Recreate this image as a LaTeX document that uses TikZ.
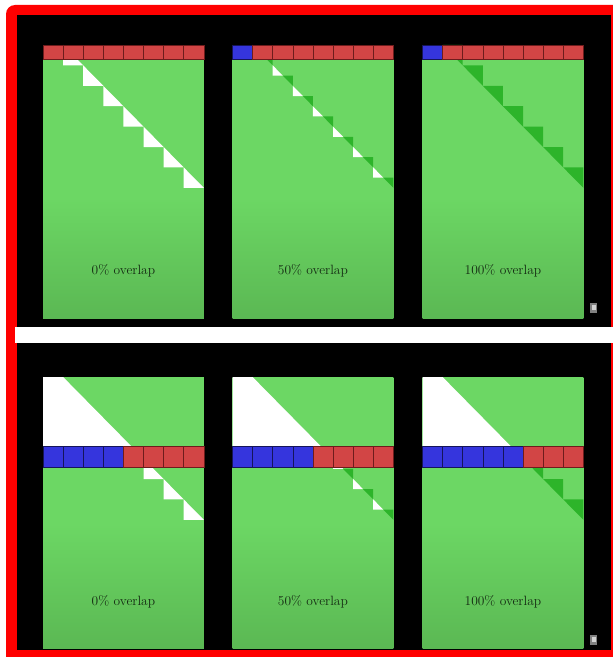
\documentclass[tikz,border=0pt]{standalone}
\usepackage{tikz}
\usetikzlibrary{calc}
\definecolor{ovRed}{HTML}{FF0000}
\definecolor{ovGreen}{HTML}{6CD764}
\definecolor{ovGreenD}{HTML}{489641}
\definecolor{ovDark}{HTML}{2DB42A}
\definecolor{ovCell}{HTML}{D24545}
\definecolor{ovCellD}{HTML}{6E1C1C}
\definecolor{ovBlue}{HTML}{3535DD}
\definecolor{ovBlueD}{HTML}{15155A}
\definecolor{ovText}{HTML}{142A12}
\pgfdeclareverticalshading{panelfade}{100bp}{color(0bp)=(ovGreenD); color(48bp)=(ovGreen); color(100bp)=(ovGreen)}

\begin{document}
\begin{tikzpicture}[x=1bp,y=-1bp,
  kv/.style={fill=ovCell,draw=ovCellD,line width=0.6bp},
  qv/.style={fill=ovBlue,draw=ovBlueD,line width=0.6bp},
  msk/.style={fill=white},
  lap/.style={fill=ovDark},
  pnl/.style={shading=panelfade},
  lbl/.style={font=\fontsize{13.5}{15}\selectfont,text=ovText}]
  \useasboundingbox (0,0) rectangle (613,657);
  \clip (0,0) rectangle (613,657);
  % frame and the two slides
  \fill[white] (0,0) rectangle (613,657);
  \fill[ovRed,rounded corners=9bp] (6,5) rectangle (640,690);
  \fill[black] (17,15) rectangle (611,650);
  \fill[white] (15,327) rectangle (613,343);

  % top slide: one block of queries
  \foreach \px/\nb/\mode/\pct [count=\i] in {43/0/0/0, 232.5/1/1/50, 422.5/1/2/100}{
    \begin{scope}[shift={(\px,45)},x=20.1bp,y=-20.4bp]
      \shade[pnl] (0,0.5) rectangle (8,13.43);
      \foreach \k in {0,...,6}{
        \ifcase\mode
          \fill[msk] (1+\k,\k) -- ++(0,1) -- ++(1,0) -- cycle;
        \or
          \fill[msk] (1+\k,\k) -- ++(0,.5) -- ++(.5,0) -- cycle;
          \fill[lap] (1.5+\k,.5+\k) -- ++(.5,0) -- ++(0,.5) -- cycle;
        \or
          \fill[lap] (1+\k,\k) -- ++(1,0) -- ++(0,1) -- cycle;
        \fi}
      \foreach \c in {0,...,7}{
        \ifnum\c<\nb \path[qv] (\c,0) rectangle ++(1,0.69);
        \else \path[kv] (\c,0) rectangle ++(1,0.69); \fi}
      \node[lbl] (top\i) at (4,11.08) {\pct\% overlap};
    \end{scope}}
  \fill[gray] (590,303) rectangle (597,313);
  \fill[gray!35] (591.5,305) rectangle (595.5,310);

  % bottom slide: several query blocks
  \foreach \px/\nb/\mode/\pct [count=\i] in {43/4/0/0, 232.5/4/1/50, 422.5/5/2/100}{
    \begin{scope}[shift={(\px,377)},x=20.1bp,y=-20.4bp]
      \shade[pnl] (0,0) rectangle (8,13.33);
      \fill[msk] (0,0) -- (1,0) -- (5,4) -- (0,4) -- cycle;
      \foreach \k in {4,...,6}{
        \ifcase\mode
          \fill[msk] (1+\k,\k) -- ++(0,1) -- ++(1,0) -- cycle;
        \or
          \fill[msk] (1+\k,\k) -- ++(0,.5) -- ++(.5,0) -- cycle;
          \fill[lap] (1.5+\k,.5+\k) -- ++(.5,0) -- ++(0,.5) -- cycle;
        \or
          \fill[lap] (1+\k,\k) -- ++(1,0) -- ++(0,1) -- cycle;
        \fi}
      \foreach \c in {0,...,7}{
        \ifnum\c<\nb \path[qv] (\c,3.38) rectangle ++(1,1.03);
        \else \path[kv] (\c,3.38) rectangle ++(1,1.03); \fi}
      \node[lbl] (bot\i) at (4,11.03) {\pct\% overlap};
    \end{scope}}
  \fill[gray] (590,635) rectangle (597,645);
  \fill[gray!35] (591.5,637) rectangle (595.5,642);
\end{tikzpicture}
\end{document}
